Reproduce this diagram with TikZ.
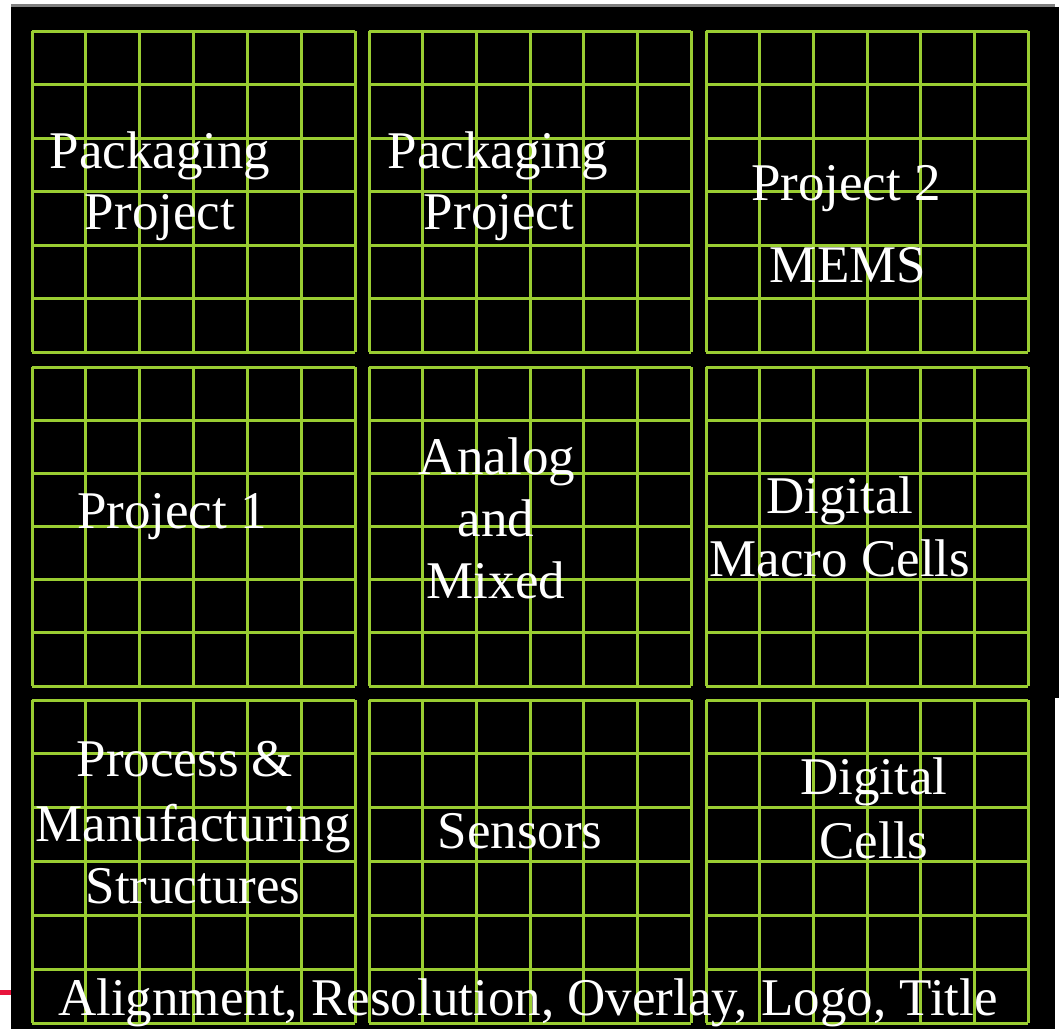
\documentclass[tikz,border=0pt]{standalone}
\usepackage{fontspec}
\setmainfont{Liberation Serif}
\definecolor{gridgreen}{RGB}{154,205,50}
\definecolor{topgray}{RGB}{128,128,128}
\definecolor{markred}{RGB}{232,20,60}
\tikzset{
  gridline/.style={draw=gridgreen, line width=3pt},
  lbl/.style={text=white, inner sep=0pt, anchor=base, font=\fontsize{53}{62}\selectfont}
}
\begin{document}
\begin{tikzpicture}[x=1pt,y=-1pt]
\useasboundingbox (0,0) rectangle (1059,1029);
\fill[white] (0,0) rectangle (1059,1029);
% black board
\fill[black] (11,7) rectangle (1055,1029);
\fill[black] (1055,7) rectangle (1059,698);
\fill[topgray] (11,4) rectangle (1055,7);
\fill[markred] (0,990) rectangle (11,995);
% grids
\foreach \xa/\xb in {32/355, 369/691, 706/1028}{
  \foreach \ya/\yb in {31/352, 367/686, 700/1023}{
    \foreach \i in {0,...,6}{
      \draw[gridline] ({\xa+(\xb-\xa)*\i/6},\ya) -- ({\xa+(\xb-\xa)*\i/6},\yb);
      \draw[gridline] (\xa,{\ya+(\yb-\ya)*\i/6}) -- (\xb,{\ya+(\yb-\ya)*\i/6});
    }
  }
}
% labels
\node[lbl] (pa1) at (160,168) {Packaging};
\node[lbl] (pb1) at (160,229) {Project};
\node[lbl] (pa2) at (498,168) {Packaging};
\node[lbl] (pb2) at (499,229) {Project};
\node[lbl] (m1) at (846,200) {Project 2};
\node[lbl] (m2) at (848,282) {MEMS};
\node[lbl] (p1) at (172,528) {Project 1};
\node[lbl] (an1) at (497,474) {Analog};
\node[lbl] (an2) at (496,536) {and};
\node[lbl] (an3) at (496,598) {Mixed};
\node[lbl] (dm1) at (840,513) {Digital};
\node[lbl] (dm2) at (840,576) {Macro Cells};
\node[lbl] (pr1) at (185,776) {Process \&};
\node[lbl] (pr2) at (193,841) {Manufacturing};
\node[lbl] (pr3) at (193,903) {Structures};
\node[lbl] (se) at (520,848) {Sensors};
\node[lbl] (dc1) at (874,794) {Digital};
\node[lbl] (dc2) at (874,858) {Cells};
\node[lbl] (al) at (528,1015) {Alignment, Resolution, Overlay, Logo, Title};
\end{tikzpicture}
\end{document}
